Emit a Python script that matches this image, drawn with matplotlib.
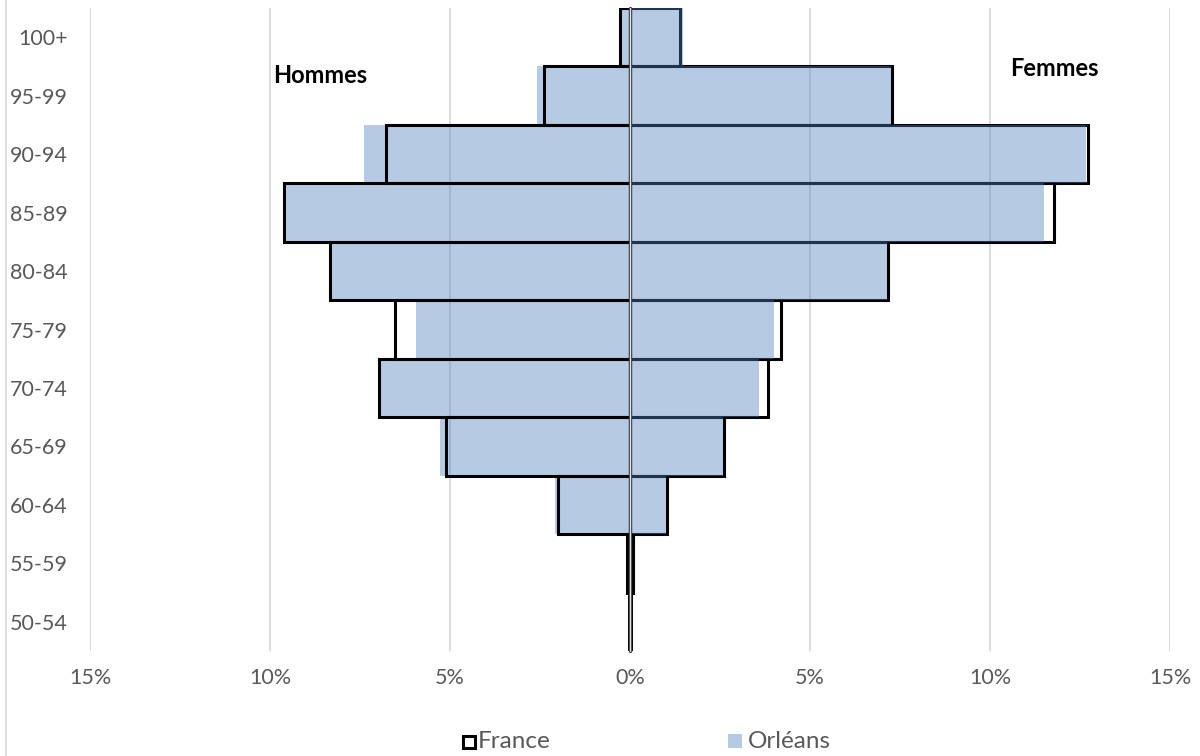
import matplotlib
matplotlib.use("Agg")
import matplotlib.pyplot as plt
from matplotlib.patches import Rectangle
from matplotlib.lines import Line2D
import numpy as np

plt.rcParams['font.family'] = ['Lato', 'DejaVu Sans']

age_groups = ["50-54", "55-59", "60-64", "65-69", "70-74", "75-79",
              "80-84", "85-89", "90-94", "95-99", "100+"]
france_hommes = [0.02, 0.08, 2.01, 5.12, 6.97, 6.53, 8.33, 9.60, 6.78, 2.39, 0.28]
france_femmes = [0.02, 0.09, 1.02, 2.61, 3.83, 4.20, 7.18, 11.78, 12.71, 7.27, 1.39]
orleans_hommes = [0.01, 0.05, 2.08, 5.28, 6.97, 5.94, 8.30, 9.60, 7.40, 2.57, 0.23]
orleans_femmes = [0.01, 0.04, 1.00, 2.57, 3.59, 4.00, 7.15, 11.50, 12.66, 7.25, 1.48]
xticks = [-15, -10, -5, 0, 5, 10, 15]
xticklabels = ["15%", "10%", "5%", "0%", "5%", "10%", "15%"]
series_names = ["France", "Orléans"]

orleans_color = "#4F81BD"
orleans_alpha = 0.41
text_gray = "#595959"

W, H = 1200, 756
fig = plt.figure(figsize=(W/100, H/100), dpi=100)
ax = fig.add_axes([90/W, 1-651/H, 1080/W, 643/H])

def fx(px):
    return px / W

def fy(py):
    return 1 - py / H

y = np.arange(len(age_groups))

# gridlines
for xv in xticks:
    if xv != 0:
        ax.axvline(xv, color="#d9d9d9", lw=1.3, zorder=1)

# Men: Orléans fill below France outline
ax.barh(y, [-v for v in orleans_hommes], height=1.0, color=orleans_color,
        alpha=orleans_alpha, lw=0, zorder=2)
ax.barh(y, [-v for v in france_hommes], height=1.0, facecolor="none",
        edgecolor="black", lw=2.2, zorder=3)
# Women: France outline below Orléans fill
ax.barh(y, france_femmes, height=1.0, facecolor="none",
        edgecolor="black", lw=2.2, zorder=3)
ax.barh(y, orleans_femmes, height=1.0, color=orleans_color,
        alpha=orleans_alpha, lw=0, zorder=4)

# zero axis line
ax.plot([0, 0], [-0.5, 10.5], color="#3a3a3a", lw=2.4, zorder=5,
        solid_capstyle="round", clip_on=False)
ax.plot([0, 0], [-0.5, 10.5], color="#e6e6e6", lw=0.9, zorder=6,
        solid_capstyle="round", clip_on=False)

ax.set_xlim(-15, 15)
ax.set_ylim(-0.5, 10.5)
ax.set_xticks(xticks)
ax.set_xticklabels(xticklabels)
ax.set_yticks(y)
ax.set_yticklabels(age_groups)
ax.tick_params(axis="both", length=0, labelsize=15.5, colors=text_gray)
ax.tick_params(axis="x", pad=12)
ax.tick_params(axis="y", pad=16)
for s in ax.spines.values():
    s.set_visible(False)

ax.text(-9.9, 9.34, "Hommes", fontsize=17, fontweight="bold", color="black",
        va="center", ha="left", zorder=7)
ax.text(10.55, 9.46, "Femmes", fontsize=17, fontweight="bold", color="black",
        va="center", ha="left", zorder=7)

# chart area left border
fig.add_artist(Line2D([fx(6), fx(6)], [0, 1], color="#d9d9d9", lw=1.2))

# legend (manual)
ly = 742
sq = 12
fig.add_artist(Rectangle((fx(463), fy(ly + sq/2)), sq/W, sq/H,
                         facecolor="white", edgecolor="black", lw=2.2))
fig.text(fx(478), fy(ly), series_names[0], fontsize=17.5, color=text_gray,
         va="center", ha="left")
fig.add_artist(Rectangle((fx(728), fy(ly + sq/2)), (sq+2)/W, (sq+2)/H,
                         facecolor=orleans_color, alpha=orleans_alpha, lw=0))
fig.text(fx(748), fy(ly), series_names[1], fontsize=17.5, color=text_gray,
         va="center", ha="left")

fig.savefig("out.png", dpi=100, facecolor="white")
